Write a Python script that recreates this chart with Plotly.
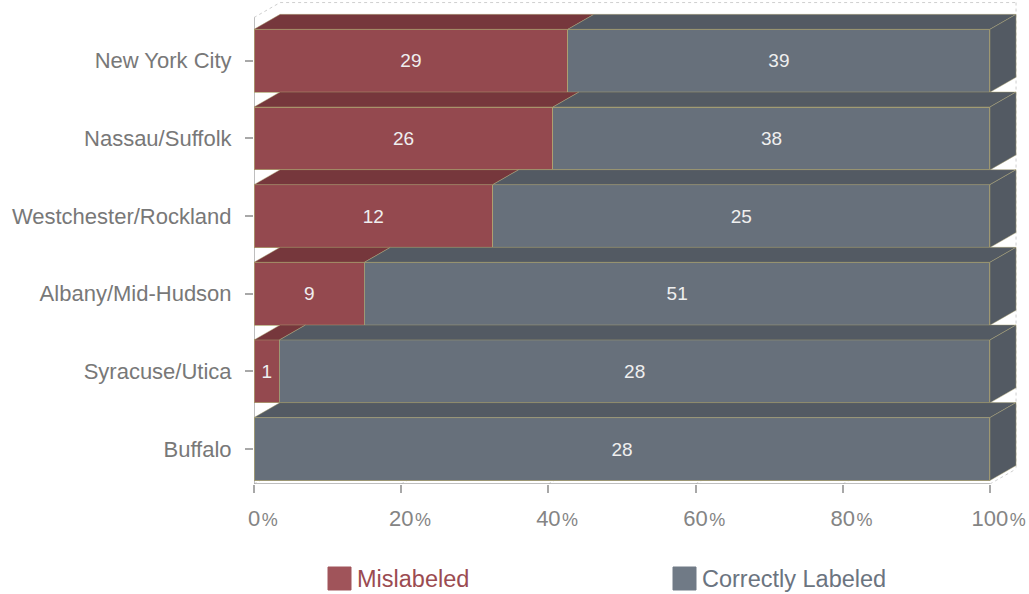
import plotly.graph_objects as go

regions = ["New York City", "Nassau/Suffolk", "Westchester/Rockland",
           "Albany/Mid-Hudson", "Syracuse/Utica", "Buffalo"]
mislabeled = [29, 26, 12, 9, 1, 0]
correct = [39, 38, 25, 51, 28, 28]
x_ticks = [0, 20, 40, 60, 80, 100]

RED = "#94494F"
RED_TOP = "#76373C"
GRAY = "#67707B"
GRAY_TOP = "#535A63"
EDGE = "rgba(175,165,115,0.75)"
FONT = "Liberation Sans, Arial, sans-serif"

n = len(regions)
ypos = list(range(n))
BW = 0.81          # bar thickness (category units)
DX = 3.55          # depth offset in x (percent units)
DY = 0.193         # depth offset in y (category units)
Y_BOTTOM = n - 1 + 0.45
Y_TOP = -0.77
WALL_TOP = -0.75

fig = go.Figure()
fig.add_trace(go.Bar(
    y=ypos, x=mislabeled, orientation="h", name="Mislabeled", width=BW,
    marker=dict(color=RED, line=dict(color=EDGE, width=1)),
    text=[str(v) if v > 0 else "" for v in mislabeled],
    textposition="inside", insidetextanchor="middle",
    textfont=dict(color="#EFEFEF", size=19, family=FONT),
    showlegend=False,
))
fig.add_trace(go.Bar(
    y=ypos, x=correct, orientation="h", name="Correctly Labeled", width=BW,
    marker=dict(color=GRAY, line=dict(color=EDGE, width=1)),
    text=[str(v) if v > 0 else "" for v in correct],
    textposition="inside", insidetextanchor="middle",
    textfont=dict(color="#EFEFEF", size=19, family=FONT),
    showlegend=False,
))

shapes = []
# background frame (back wall / floor), dashed
frame = dict(color="#CFCFCF", width=1, dash="dot")
shapes.append(dict(type="line", xref="x", yref="y", x0=DX, y0=WALL_TOP, x1=100 + DX, y1=WALL_TOP,
                   line=frame, layer="below"))
shapes.append(dict(type="line", xref="x", yref="y", x0=100 + DX, y0=WALL_TOP, x1=100 + DX, y1=Y_BOTTOM - DY,
                   line=frame, layer="below"))
shapes.append(dict(type="line", xref="x", yref="y", x0=0, y0=WALL_TOP + DY, x1=DX, y1=WALL_TOP,
                   line=frame, layer="below"))
for v in x_ticks:
    shapes.append(dict(type="line", xref="x", yref="y", x0=v, y0=Y_BOTTOM, x1=v + DX, y1=Y_BOTTOM - DY,
                       line=frame, layer="below"))
# axis lines
axis_line = dict(color="#A8A8A8", width=1.5)
shapes.append(dict(type="line", xref="x", yref="y", x0=0, y0=Y_BOTTOM, x1=100, y1=Y_BOTTOM,
                   line=axis_line, layer="above"))
shapes.append(dict(type="line", xref="x", yref="y", x0=0, y0=WALL_TOP + DY, x1=0, y1=Y_BOTTOM,
                   line=axis_line, layer="below"))

# 3D faces computed from data
for i in range(n):
    tot = mislabeled[i] + correct[i]
    p = 100.0 * mislabeled[i] / tot
    yt = i - BW / 2
    yb = i + BW / 2
    segs = [(0, p, RED_TOP), (p, 100, GRAY_TOP)]
    for a, b, col in segs:
        if b - a <= 0:
            continue
        path = f"M {a},{yt} L {b},{yt} L {b + DX},{yt - DY} L {a + DX},{yt - DY} Z"
        shapes.append(dict(type="path", xref="x", yref="y", path=path,
                           fillcolor=col, line=dict(color=EDGE, width=0.6), layer="above"))
    path = f"M 100,{yb} L 100,{yt} L {100 + DX},{yt - DY} L {100 + DX},{yb - DY} Z"
    shapes.append(dict(type="path", xref="x", yref="y", path=path,
                       fillcolor=GRAY_TOP, line=dict(color=EDGE, width=0.6), layer="above"))

# manual legend (large square swatches, coloured labels)
PW, PH = 765.0, 483.0
def px2x(px):
    return (px - 254) / PW
def py2y(py):
    return (484 - py) / PH

legend_items = [("Mislabeled", "#A0545A", "#9B4B51", 328),
                ("Correctly Labeled", "#707A86", "#6B7480", 673)]
annotations = []
for label, sw, tc, left in legend_items:
    shapes.append(dict(type="rect", xref="paper", yref="paper",
                       x0=px2x(left), x1=px2x(left + 23), y0=py2y(567), y1=py2y(590),
                       fillcolor=sw, line=dict(color=sw, width=1)))
    annotations.append(dict(xref="paper", yref="paper", x=px2x(left + 27), y=py2y(579),
                            text=label, showarrow=False, xanchor="left", yanchor="middle",
                            font=dict(size=23.5, color=tc, family=FONT)))

# digits centred on the tick, "%" appended to the right (invisible twin on the left)
pct = "<span style='font-size:18px'>\u200a%</span>"
ghost = "<span style='font-size:18px;color:rgba(0,0,0,0)'>%\u200a</span>"
tick_text = [f"{ghost}{v}{pct}" for v in x_ticks]

fig.update_layout(
    barmode="stack", barnorm="percent",
    width=1029, height=594,
    margin=dict(l=254, r=10, t=1, b=110),
    paper_bgcolor="white", plot_bgcolor="white",
    shapes=shapes, annotations=annotations,
    xaxis=dict(range=[0, 100 + DX + 0.4], tickvals=x_ticks, ticktext=tick_text,
               showgrid=False, zeroline=False, showline=False,
               ticks="outside", ticklen=8, tickcolor="#A8A8A8", tickwidth=1.5,
               ticklabelstandoff=7,
               tickfont=dict(size=22, color="#848484", family=FONT)),
    yaxis=dict(range=[Y_BOTTOM, Y_TOP], tickvals=ypos, ticktext=regions,
               showgrid=False, zeroline=False, showline=False,
               ticks="outside", ticklen=8, tickcolor="#A8A8A8", tickwidth=1.5,
               ticklabelstandoff=9,
               tickfont=dict(size=22, color="#787878", family=FONT)),
    showlegend=False,
    font=dict(family=FONT),
)

fig.write_html("out.html")
